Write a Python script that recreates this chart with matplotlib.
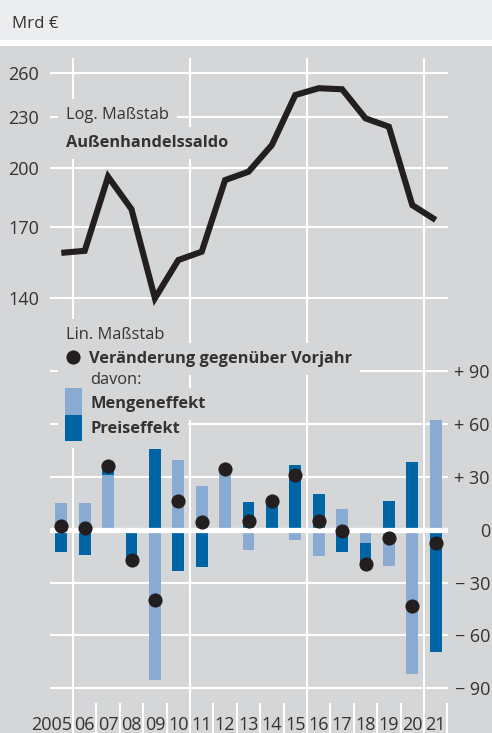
import matplotlib
matplotlib.use("Agg")
import matplotlib.pyplot as plt
import matplotlib.transforms as mtransforms
from matplotlib.patches import Rectangle
from matplotlib.lines import Line2D
import numpy as np

# ---------------- data ----------------
years = list(range(2005, 2022))
year_labels = ["2005", "06", "07", "08", "09", "10", "11", "12", "13", "14",
               "15", "16", "17", "18", "19", "20", "21"]
saldo = [158.4, 159.3, 195.3, 178.6, 139.8, 155.3, 158.9, 193.5, 198.0, 213.1,
         244.5, 249.1, 248.4, 229.3, 224.1, 180.6, 173.4]
change = [2.3, 1.0, 36.3, -17.0, -39.7, 16.4, 4.1, 34.6, 4.7, 16.1,
          30.8, 4.7, -0.9, -19.3, -4.7, -43.5, -7.6]
menge = [15.1, 15.1, 31.2, 0.0, -85.1, 39.7, 25.0, 34.5, -11.3, 0.0,
         -5.7, -15.1, 11.9, -7.6, -20.8, -81.9, 62.0]
preis = [-12.9, -14.4, 5.0, -17.0, 45.8, -23.6, -21.2, 0.0, 15.9, 15.5,
         36.9, 20.2, -12.7, -11.7, 16.4, 38.4, -69.4]
top_ticks = [140, 170, 200, 230, 260]
bottom_ticks = [-90, -60, -30, 0, 30, 60, 90]
bottom_tick_labels = ["\u2212 90", "\u2212 60", "\u2212 30", "0", "+ 30", "+ 60", "+ 90"]
grid_years = [2005.5, 2010.5, 2015.5, 2020.5]

# ---------------- style ----------------
GRAY = "#d5d6d8"
HEADER = "#ecedef"
TXT = "#333333"
BLACK = "#231f20"
LIGHT = "#8aabd1"
DARK = "#0065a5"
FS = 13      # numbers
FSW = 11.8   # words
plt.rcParams["font.family"] = ["Open Sans", "DejaVu Sans"]

W, H = 492, 733
fig = plt.figure(figsize=(W / 100, H / 100), dpi=100)
fig.patch.set_facecolor(GRAY)


def fx(px):
    return px / W


def fy(py):
    return 1 - py / H


# header band
fig.add_artist(Rectangle((0, fy(40)), 1, 1 - fy(40), transform=fig.transFigure,
                         facecolor=HEADER, edgecolor="none", zorder=0))
fig.add_artist(Rectangle((0, fy(46)), 1, fy(40) - fy(46), transform=fig.transFigure,
                         facecolor="white", edgecolor="none", zorder=0))
fig.text(fx(12), fy(28), "Mrd \u20ac", fontsize=12.2, color=TXT, va="baseline", ha="left")

L, R = 50, 448
x0 = 2005.5 - (73 - L) / 23.4
x1 = 2005.5 + (R - 73) / 23.4

ax1 = fig.add_axes([fx(L), fy(320), fx(R) - fx(L), fy(58) - fy(320)])
ax2 = fig.add_axes([fx(L), fy(703), fx(R) - fx(L), fy(320) - fy(703)])
for ax in (ax1, ax2):
    ax.set_facecolor("none")
    for s in ax.spines.values():
        s.set_visible(False)
    ax.set_xlim(x0, x1)
    for gx in grid_years:
        ax.axvline(gx, color="white", lw=1.5, zorder=1)

# ---- top: log scale saldo ----
ax1.set_yscale("log")
ax1.set_ylim(131.7, 270.7)
ax1.set_yticks(top_ticks)
ax1.set_yticklabels([str(t) for t in top_ticks])
ax1.yaxis.set_minor_locator(matplotlib.ticker.NullLocator())
ax1.tick_params(axis="y", length=0, pad=8, labelsize=FS, labelcolor=TXT)
ax1.set_xticks([])
for t in top_ticks:
    ax1.axhline(t, color="white", lw=1.5, zorder=1)
ax1.plot(years, saldo, color=BLACK, lw=4.4, solid_joinstyle="miter",
         solid_capstyle="butt", zorder=3)

# ---- bottom: linear bars ----
ax2.set_ylim(-98.3, 118.9)
ax2.set_yticks([])
for t in bottom_ticks:
    if t != 0:
        ax2.axhline(t, color="white", lw=1.5, zorder=1)
ax2.axhline(0, color="white", lw=3.8, zorder=4)

menge_a = np.array(menge)
preis_a = np.array(preis)
preis_bottom = np.where(np.sign(menge_a) == np.sign(preis_a), menge_a, 0.0)
bw = 0.51
ax2.bar(years, menge_a, width=bw, color=LIGHT, zorder=2)
ax2.bar(years, preis_a, bottom=preis_bottom, width=bw, color=DARK, zorder=2)
ax2.plot(years, change, "o", ms=10.2, color=BLACK, zorder=5, mec="none")

# right-side tick labels
rtrans = mtransforms.blended_transform_factory(fig.transFigure, ax2.transData)
for t, lab in zip(bottom_ticks, bottom_tick_labels):
    ax2.text(fx(490), t, lab, transform=rtrans, ha="right", va="center_baseline",
             fontsize=FS, color=TXT, clip_on=False)

# x separators (minor ticks) and year labels
ax2.set_xticks(np.arange(2005.5, 2022, 1.0), minor=True)
ax2.set_xticks([])
ax2.tick_params(axis="x", which="minor", length=22, width=1.5, color="white",
                direction="out")
btrans = mtransforms.blended_transform_factory(ax2.transData, fig.transFigure)
for yr, lab in zip(years, year_labels):
    if yr == years[0]:
        ax2.text(yr + 0.45, fy(730), lab, transform=btrans, ha="right",
                 va="baseline", fontsize=FS, color=TXT, clip_on=False)
    else:
        ax2.text(yr, fy(730), lab, transform=btrans, ha="center",
                 va="baseline", fontsize=FS, color=TXT, clip_on=False)

# ---- annotations / legend ----
bb = dict(boxstyle="square,pad=0.5", facecolor=GRAY, edgecolor="none")
fig.text(fx(66), fy(119), "Log. Ma\u00dfstab", fontsize=FSW, color=TXT,
         va="baseline", ha="left", bbox=bb, zorder=3)
fig.text(fx(66), fy(147), "Au\u00dfenhandelssaldo", fontsize=FSW, color=TXT,
         fontweight="bold", va="baseline", ha="left", bbox=bb, zorder=3)

fig.add_artist(Rectangle((fx(58), fy(448)), fx(89) - fx(58), fy(322) - fy(448),
                         transform=fig.transFigure, facecolor=GRAY,
                         edgecolor="none", zorder=2))
fig.text(fx(66), fy(339), "Lin. Ma\u00dfstab", fontsize=FSW, color=TXT,
         va="baseline", ha="left", bbox=bb, zorder=3)
fig.add_artist(Line2D([fx(73)], [fy(357)], marker="o", ms=10.2, color=BLACK,
                      mec="none", transform=fig.transFigure, zorder=4))
fig.text(fx(89), fy(363), "Ver\u00e4nderung gegen\u00fcber Vorjahr", fontsize=FSW,
         color=TXT, fontweight="bold", va="baseline", ha="left", bbox=bb, zorder=3)
fig.text(fx(90), fy(384), "davon:", fontsize=FSW, color=TXT,
         va="baseline", ha="left", bbox=bb, zorder=3)
fig.add_artist(Rectangle((fx(65), fy(415)), fx(82) - fx(65), fy(388) - fy(415),
                         transform=fig.transFigure, facecolor=LIGHT,
                         edgecolor="none", zorder=4))
fig.add_artist(Rectangle((fx(65), fy(441)), fx(82) - fx(65), fy(415) - fy(441),
                         transform=fig.transFigure, facecolor=DARK,
                         edgecolor="none", zorder=4))
fig.text(fx(90), fy(408), "Mengeneffekt", fontsize=FSW, color=TXT,
         fontweight="bold", va="baseline", ha="left", bbox=bb, zorder=3)
fig.text(fx(90), fy(433), "Preiseffekt", fontsize=FSW, color=TXT,
         fontweight="bold", va="baseline", ha="left", bbox=bb, zorder=3)

fig.savefig("out.png", dpi=100, facecolor=GRAY)
